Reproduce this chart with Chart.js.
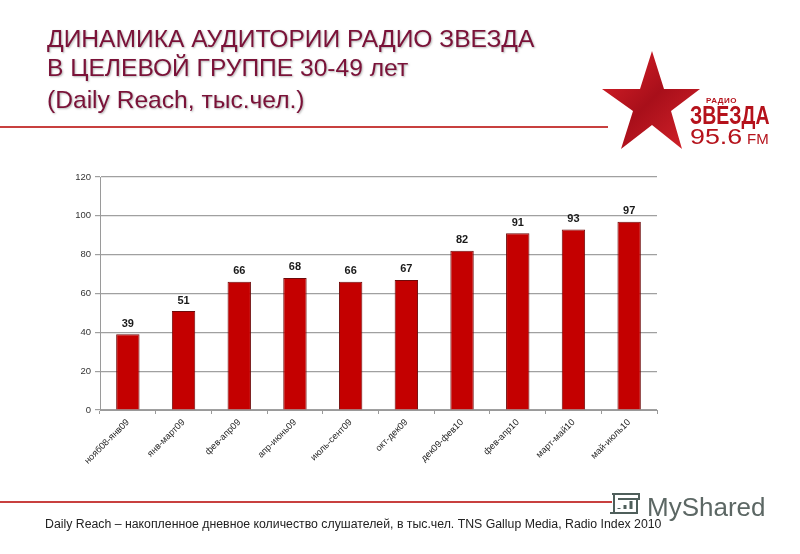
<!DOCTYPE html>
<html lang="ru">
<head>
<meta charset="utf-8">
<title>Динамика аудитории</title>
<script src="https://cdn.jsdelivr.net/npm/chart.js@4"></script>
<style>
html,body{margin:0;padding:0;background:#fff;width:800px;height:554px;overflow:hidden;font-family:"Liberation Sans",Arial,sans-serif}
#wrap{position:relative;width:800px;height:554px}
#chartMain{position:absolute;left:0;top:0}
.abs{position:absolute;white-space:nowrap}
.title{left:47px;color:#7a1238;font-size:24.6px;line-height:26px;text-shadow:1px 1px 2px rgba(120,120,120,.55)}
.rule{left:0;height:2px;background:#c8403f}
.logo{color:#b5121b;transform-origin:left top}
</style>
</head>
<body>
<div id="wrap">
  <canvas id="chartMain" width="800" height="554"></canvas>
  <div class="abs title" style="top:26px">ДИНАМИКА АУДИТОРИИ РАДИО ЗВЕЗДА</div>
  <div class="abs title" style="top:55px">В ЦЕЛЕВОЙ ГРУППЕ 30-49 лет</div>
  <div class="abs title" style="top:87px">(Daily Reach, тыс.чел.)</div>
  <div class="abs rule" style="top:126px;width:608px"></div>
  <div class="abs rule" style="top:501px;width:612px"></div>

  <svg class="abs" style="left:600px;top:48px" width="105" height="105" viewBox="0 0 105 105">
    <defs><linearGradient id="star" x1="0" y1="0" x2="1" y2="1">
      <stop offset="0" stop-color="#e0222a"/><stop offset=".5" stop-color="#a80f1a"/><stop offset="1" stop-color="#d8242c"/>
    </linearGradient></defs>
    <polygon points="52,3 64,41 100,41 71,63 82,101 52,77 21,101 33,63 2,41 40,41" fill="url(#star)"/>
  </svg>
  <div class="abs logo" style="left:706px;top:96px;font-size:8px;font-weight:bold;letter-spacing:.5px">РАДИО</div>
  <div class="abs logo" style="left:690px;top:101px;font-size:25px;font-weight:bold;transform:scaleX(.78)">ЗВЕЗДА</div>
  <div class="abs logo" style="left:690px;top:124px;font-size:22px;transform:scaleX(1.22)">95.6</div>
  <div class="abs logo" style="left:747px;top:130px;font-size:15px">FM</div>

  <div class="abs" style="left:45px;top:517px;font-size:12.3px;color:#222">Daily Reach – накопленное дневное количество слушателей, в тыс.чел. TNS Gallup Media, Radio Index 2010</div>

  <svg class="abs" style="left:607px;top:491px" width="36" height="36" viewBox="0 0 36 36" fill="none" stroke="#4f5f5b" stroke-width="2">
    <path d="M5 3h27v5H11M7 3v19h23V8M3 22h10"/>
    <path d="M12 18v-1M18 18v-4M24 18v-8" stroke-width="3"/>
  </svg>
  <div class="abs" style="left:647px;top:492px;font-size:26px;color:#5c6764">MyShared</div>
</div>
<script>
const categories = ['нояб08-янв09','янв-март09','фев-апр09','апр-июнь09','июль-сент09','окт-дек09','дек09-фев10','фев-апр10','март-май10','май-июль10'];
const reach = [39, 51, 66, 68, 66, 67, 82, 91, 93, 97];
const yTicks = [0, 20, 40, 60, 80, 100, 120];

// подписи над столбцами
const barLabels = {
    id: 'barLabels',
    afterDatasetsDraw(chart) {
        const ctx = chart.ctx;
        ctx.save();
        ctx.font = 'bold 11px "Liberation Sans"';
        ctx.fillStyle = '#1a1a1a';
        ctx.textAlign = 'center';
        ctx.textBaseline = 'bottom';
        chart.getDatasetMeta(0).data.forEach((bar, i) => {
            ctx.fillText(reach[i], bar.x, bar.y - 5);
        });
        ctx.restore();
    }
};

new Chart(document.getElementById('chartMain').getContext('2d'), {
    type: 'bar',
    plugins: [barLabels],
    data: {
        labels: categories,
        datasets: [{
            data: reach,
            backgroundColor: '#c40000',
            borderColor: '#6e0a0a',
            borderWidth: 1,
            barPercentage: 0.42,
            categoryPercentage: 1
        }]
    },
    options: {
        responsive: false,
        animation: false,
        layout: { padding: { left: 0, top: 177, right: 143, bottom: 0 } },
        plugins: { legend: { display: false }, tooltip: { enabled: false } },
        scales: {
            x: {
                afterFit(scale) { scale.height = 144; },
                border: { color: '#9a9a9a' },
                grid: { offset: true, drawOnChartArea: false, drawTicks: true, tickLength: 4, color: '#9a9a9a' },
                ticks: {
                    color: '#222',
                    font: { family: 'Liberation Sans', size: 9.2 },
                    minRotation: 45,
                    maxRotation: 45,
                    autoSkip: false,
                    padding: 3
                }
            },
            y: {
                min: 0,
                max: 120,
                afterFit(scale) { scale.width = 100; },
                afterBuildTicks(scale) { scale.ticks = yTicks.map(v => ({ value: v })); },
                border: { color: '#9a9a9a' },
                grid: { color: '#a0a0a0', lineWidth: 1.2, tickLength: 5 },
                ticks: {
                    color: '#333',
                    font: { family: 'Liberation Sans', size: 9.5 },
                    padding: 4
                }
            }
        }
    }
});
</script>
</body>
</html>
